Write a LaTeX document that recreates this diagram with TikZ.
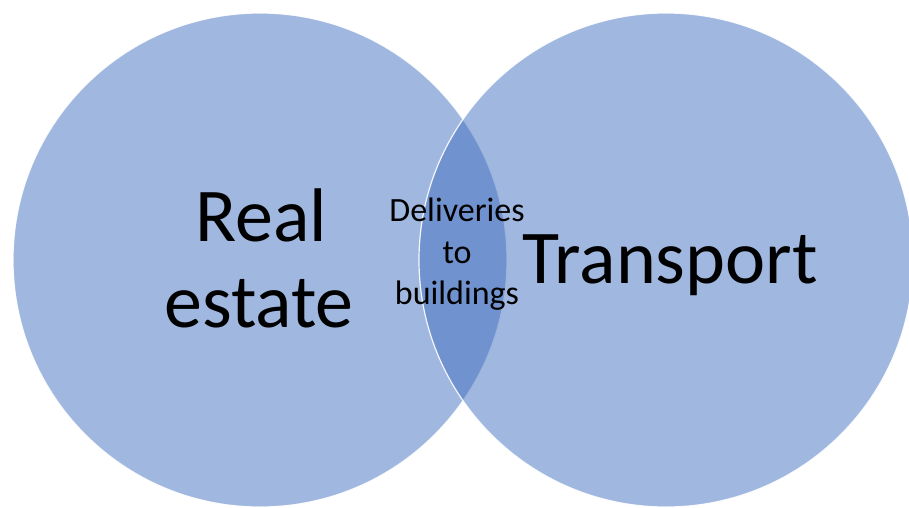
\documentclass[tikz,border=0pt]{standalone}
\usepackage{fontspec}
\setmainfont{Carlito}
\definecolor{vennblue}{RGB}{65,111,191}
\begin{document}
\begin{tikzpicture}[x=1pt,y=-1pt,
  venn/.style={circle, minimum size=494pt, inner sep=0pt,
    fill=vennblue, fill opacity=0.5, draw=white, draw opacity=0.9, line width=1.2pt},
  bigtext/.style={anchor=base, inner sep=0pt, text=black, font=\fontsize{76}{86}\selectfont},
  smalltext/.style={anchor=base, inner sep=0pt, text=black, font=\fontsize{34}{40}\selectfont}]
\useasboundingbox (0,0) rectangle (909,507);
% the two overlapping sets
\node[venn] (realestate) at (260,260) {};
\node[venn] (transport) at (666,260) {};
% set labels
\node[bigtext] (real) at (261,241) {Real};
\node[bigtext] (estate) at (259,327) {estate};
\node[bigtext] (transporttxt) at (670,283) {Transport};
% label of the overlap
\node[smalltext] (deliveries) at (457,221) {Deliveries};
\node[smalltext] (to) at (457,263) {to};
\node[smalltext] (buildings) at (457,304) {buildings};
\end{tikzpicture}
\end{document}
